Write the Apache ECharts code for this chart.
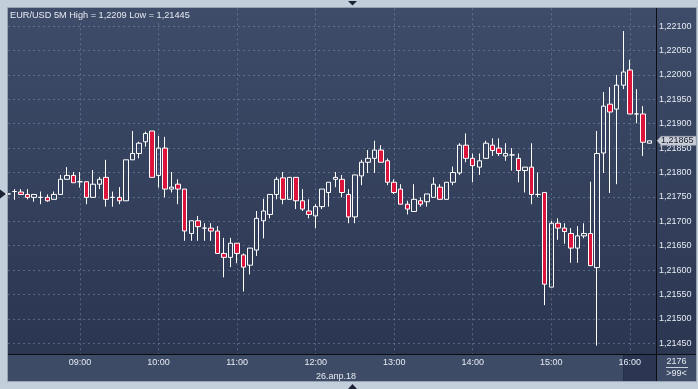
<!DOCTYPE html>
<html>
<head>
<meta charset="utf-8">
<script src="https://cdn.jsdelivr.net/npm/echarts@6/dist/echarts.min.js"></script>
<style>
html,body{margin:0;padding:0;background:#c3cedb;}
#main{width:698px;height:389px;}
</style>
</head>
<body>
<div id="main"></div>
<script>
// ---- categories (5-minute bars, 26.04.18) ----
const times = [
'08:05','08:10','08:15','08:20','08:25','08:30','08:35','08:40','08:45','08:50','08:55',
'09:00','09:05','09:10','09:15','09:20','09:25','09:30','09:35','09:40','09:45','09:50','09:55',
'10:00','10:05','10:10','10:15','10:20','10:25','10:30','10:35','10:40','10:45','10:50','10:55',
'11:00','11:05','11:10','11:15','11:20','11:25','11:30','11:35','11:40','11:45','11:50','11:55',
'12:00','12:05','12:10','12:15','12:20','12:25','12:30','12:35','12:40','12:45','12:50','12:55',
'13:00','13:05','13:10','13:15','13:20','13:25','13:30','13:35','13:40','13:45','13:50','13:55',
'14:00','14:05','14:10','14:15','14:20','14:25','14:30','14:35','14:40','14:45','14:50','14:55',
'15:00','15:05','15:10','15:15','15:20','15:25','15:30','15:35','15:40','15:45','15:50','15:55',
'16:00','16:05','16:10','16:15','16:20'
];
// ---- OHLC values ----
const open = [
1.21756,1.21761,1.21760,1.21755,1.21749,1.21749,1.21749,1.21745,1.21755,1.21786,1.21794,
1.21781,1.21781,1.21749,1.21776,1.21790,1.21749,1.21749,1.21742,1.21826,1.21839,1.21863,1.21885,
1.21794,1.21850,1.21766,1.21776,1.21766,1.21675,1.21701,1.21686,1.21686,1.21680,1.21634,1.21626,
1.21655,1.21631,1.21610,1.21641,1.21701,1.21714,1.21755,1.21789,1.21745,1.21790,1.21742,1.21721,
1.21711,1.21730,1.21759,1.21786,1.21786,1.21755,1.21709,1.21793,1.21821,1.21829,1.21846,1.21824,
1.21780,1.21766,1.21735,1.21720,1.21742,1.21740,1.21749,1.21770,1.21745,1.21780,1.21799,1.21856,
1.21829,1.21811,1.21829,1.21856,1.21850,1.21834,1.21836,1.21829,1.21804,1.21811,1.21755,1.21759,
1.21565,1.21696,1.21686,1.21675,1.21645,1.21670,1.21675,1.21605,1.21840,1.21940,1.21930,1.21979,
1.22010,1.21920,1.21920,1.21860
];
const close = [
1.21756,1.21761,1.21755,1.21749,1.21755,1.21749,1.21742,1.21755,1.21786,1.21794,1.21779,
1.21781,1.21749,1.21776,1.21786,1.21745,1.21749,1.21742,1.21826,1.21839,1.21860,1.21880,1.21790,
1.21850,1.21766,1.21770,1.21766,1.21680,1.21701,1.21689,1.21686,1.21680,1.21634,1.21626,1.21655,
1.21634,1.21606,1.21645,1.21706,1.21721,1.21755,1.21786,1.21745,1.21790,1.21742,1.21725,1.21714,
1.21730,1.21766,1.21780,1.21790,1.21759,1.21709,1.21795,1.21821,1.21829,1.21846,1.21821,1.21780,
1.21759,1.21735,1.21725,1.21745,1.21735,1.21756,1.21776,1.21745,1.21780,1.21800,1.21856,1.21829,
1.21814,1.21824,1.21860,1.21845,1.21839,1.21839,1.21836,1.21804,1.21811,1.21755,1.21755,1.21571,
1.21696,1.21686,1.21679,1.21645,1.21670,1.21675,1.21609,1.21839,1.21936,1.21924,1.21979,1.22006,
1.21920,1.21920,1.21862,1.21865
];
const low = [
1.21754,1.21744,1.21754,1.21745,1.21740,1.21735,1.21740,1.21745,1.21755,1.21786,1.21779,
1.21769,1.21735,1.21749,1.21766,1.21730,1.21730,1.21735,1.21742,1.21826,1.21829,1.21853,1.21790,
1.21769,1.21749,1.21759,1.21735,1.21660,1.21660,1.21660,1.21660,1.21660,1.21634,1.21585,1.21606,
1.21614,1.21556,1.21591,1.21629,1.21665,1.21706,1.21745,1.21735,1.21745,1.21725,1.21721,1.21706,
1.21686,1.21725,1.21730,1.21770,1.21749,1.21696,1.21696,1.21774,1.21799,1.21799,1.21821,1.21774,
1.21756,1.21735,1.21714,1.21720,1.21730,1.21730,1.21749,1.21745,1.21745,1.21774,1.21795,1.21821,
1.21780,1.21795,1.21829,1.21834,1.21834,1.21824,1.21804,1.21780,1.21759,1.21735,1.21749,1.21528,
1.21565,1.21662,1.21654,1.21615,1.21615,1.21665,1.21609,1.21445,1.21799,1.21758,1.21776,1.21971,
1.21920,1.21901,1.21834,1.21860
];
const high = [
1.21758,1.21766,1.21766,1.21766,1.21755,1.21761,1.21755,1.21761,1.21795,1.21811,1.21801,
1.21801,1.21781,1.21805,1.21791,1.21826,1.21761,1.21770,1.21826,1.21885,1.21863,1.21884,1.21885,
1.21875,1.21873,1.21801,1.21786,1.21766,1.21701,1.21711,1.21696,1.21696,1.21690,1.21666,1.21666,
1.21655,1.21634,1.21645,1.21721,1.21746,1.21755,1.21791,1.21801,1.21790,1.21790,1.21766,1.21745,
1.21735,1.21766,1.21780,1.21801,1.21795,1.21766,1.21795,1.21826,1.21846,1.21865,1.21856,1.21829,
1.21786,1.21776,1.21742,1.21776,1.21749,1.21756,1.21790,1.21776,1.21780,1.21812,1.21860,1.21880,
1.21839,1.21839,1.21865,1.21870,1.21870,1.21860,1.21850,1.21839,1.21811,1.21860,1.21800,1.21759,
1.21701,1.21706,1.21696,1.21686,1.21690,1.21696,1.21781,1.21885,1.21965,1.21975,1.22000,1.22090,
1.22031,1.21971,1.21936,1.21865
];
const dateLabel = '26.апр.18';
const symbolName = 'EUR/USD 5M';
const cornerTop = '2176';
const cornerBottom = '>99<';

const fmt = v => v.toFixed(5).replace('.', ',');
const fmtTrim = v => v.toFixed(5).replace(/0+$/, '').replace('.', ',');
const dayHigh = Math.max.apply(null, high);
const dayLow = Math.min.apply(null, low);
const lastClose = close[close.length - 1];

const FONT = "'Liberation Sans', Arial, sans-serif";
const TXT = '#e6ebf2';

const candleData = times.map((t, k) => k < open.length ? [open[k], close[k], low[k], high[k]] : '-');
const isHour = (i, v) => /:00$/.test(v);

const chart = echarts.init(document.getElementById('main'), null, {renderer: 'canvas'});

const baseGraphic = [
  {id:'panelbg', type:'rect', z:-10, shape:{x:8,y:8,width:688,height:346},
   style:{fill:new echarts.graphic.LinearGradient(0,0,0,1,[{offset:0,color:'#3e4c69'},{offset:1,color:'#2b3651'}])}},
  {id:'xstrip', type:'rect', z:-10, shape:{x:8,y:355,width:688,height:26}, style:{fill:'#3e4b66'}},
  {id:'nowbox', type:'rect', z:-9, shape:{x:624,y:355,width:32,height:26}, style:{fill:'#2c3653'}},
  {id:'nowline', type:'line', z:-9, shape:{x1:623.5,y1:355,x2:623.5,y2:381}, style:{stroke:'#27304a',lineWidth:1}},
  {id:'hsep', type:'line', z:10, shape:{x1:8,y1:354.5,x2:696,y2:354.5}, style:{stroke:'#0b0d12',lineWidth:1}},
  {id:'vsep', type:'line', z:10, shape:{x1:656.5,y1:8,x2:656.5,y2:381}, style:{stroke:'#0b0d12',lineWidth:1}},
  {id:'frame', type:'rect', z:10, shape:{x:7.5,y:7.5,width:689,height:374}, style:{fill:null,stroke:'#97a3b5',lineWidth:1}},
  {id:'date', type:'text', z:10, style:{text:dateLabel,x:336,y:377,textAlign:'center',textVerticalAlign:'middle',fill:TXT,font:'9px ' + FONT}},
  {id:'c1', type:'text', z:10, style:{text:cornerTop,x:676.5,y:361.5,textAlign:'center',textVerticalAlign:'middle',fill:TXT,font:'9px ' + FONT}},
  {id:'cl', type:'line', z:10, shape:{x1:666,y1:367.5,x2:688,y2:367.5}, style:{stroke:'#c9d1de',lineWidth:1}},
  {id:'c2', type:'text', z:10, style:{text:cornerBottom,x:676.5,y:374,textAlign:'center',textVerticalAlign:'middle',fill:TXT,font:'9px ' + FONT}},
  {id:'ttop', type:'polygon', z:10, shape:{points:[[348,1],[357,1],[352.5,5.5]]}, style:{fill:'#1c2336'}},
  {id:'tbot', type:'polygon', z:10, shape:{points:[[348,389],[357,389],[352.5,384]]}, style:{fill:'#1c2336'}}
];

chart.setOption({
  animation: false,
  backgroundColor: '#c3cedb',
  title: {
    text: symbolName + ' High = ' + fmtTrim(dayHigh) + ' Low = ' + fmtTrim(dayLow),
    left: 8, top: 8, padding: [3, 4, 3, 2], backgroundColor: '#3e4c69', z: 20,
    textStyle: {color: TXT, fontSize: 9.2, fontWeight: 'normal', fontFamily: FONT}
  },
  grid: {left: 8, right: 42, top: 8.3, bottom: 35, containLabel: false},
  xAxis: {
    type: 'category', data: times, boundaryGap: false,
    axisLine: {show: false}, axisTick: {show: false},
    axisLabel: {interval: isHour, color: TXT, fontSize: 9, fontFamily: FONT, margin: 4},
    splitLine: {show: true, interval: isHour, lineStyle: {color: 'rgba(125,140,172,0.55)', type: [2, 3], width: 1}}
  },
  yAxis: {
    type: 'value', position: 'right', scale: true,
    min: 1.214279, max: 1.221366, minInterval: 0.0005, maxInterval: 0.0005, splitNumber: 14,
    axisLine: {show: false}, axisTick: {show: false},
    axisLabel: {formatter: fmt, color: TXT, fontSize: 9, fontFamily: FONT, margin: 3, showMinLabel: false, showMaxLabel: false},
    splitLine: {show: true, showMinLine: false, showMaxLine: false, lineStyle: {color: 'rgba(125,140,172,0.55)', type: [2, 3], width: 1}}
  },
  series: [{
    type: 'candlestick', data: candleData, barWidth: 5, clip: true,
    itemStyle: {color: 'rgba(0,0,0,0)', color0: '#dc143c', borderColor: '#ffffff', borderColor0: '#ffffff', borderWidth: 1}
  }],
  graphic: baseGraphic
});

const py = chart.convertToPixel({yAxisIndex: 0}, lastClose);
const py0 = chart.convertToPixel({yAxisIndex: 0}, close[0]);
chart.setOption({
  graphic: baseGraphic.concat([
    {id:'pbox', type:'polygon', z:20, shape:{points:[[657,py],[661,py-4.5],[696,py-4.5],[696,py+4.5],[661,py+4.5]]}, style:{fill:'#c9ced7',stroke:'#9aa2b0',lineWidth:0.5}},
    {id:'ptxt', type:'text', z:21, style:{text:fmt(lastClose),x:661,y:py,textAlign:'left',textVerticalAlign:'middle',fill:'#18202e',font:'9px ' + FONT}},
    {id:'tleft', type:'polygon', z:10, shape:{points:[[0,py0-4.5],[0,py0+4.5],[6,py0]]}, style:{fill:'#1c2336'}}
  ])
});
</script>
</body>
</html>
